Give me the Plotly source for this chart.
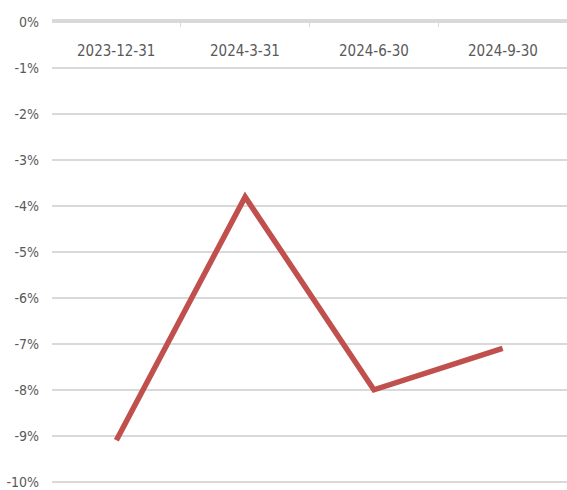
import plotly.graph_objects as go

categories = ["2023-12-31", "2024-3-31", "2024-6-30", "2024-9-30"]
values = [-9.1, -3.8, -8.0, -7.1]
ytick_vals = [0, -1, -2, -3, -4, -5, -6, -7, -8, -9, -10]
ytick_text = ["0%", "-1%", "-2%", "-3%", "-4%", "-5%", "-6%", "-7%", "-8%", "-9%", "-10%"]

font_family = "Liberation Sans Narrow, DejaVu Sans Condensed, Noto Sans, sans-serif"

fig = go.Figure()
fig.add_trace(go.Scatter(
    x=categories, y=values, mode="lines",
    line=dict(color="#C0504D", width=5.5),
    hoverinfo="skip",
))

for c in categories:
    fig.add_annotation(
        x=c, y=0, xref="x", yref="y", text=c, showarrow=False,
        yshift=-29, font=dict(family=font_family, size=15, color="#595959"),
    )

fig.update_layout(
    width=567, height=490,
    margin=dict(l=52, r=0, t=21, b=7),
    paper_bgcolor="white", plot_bgcolor="white",
    showlegend=False,
    xaxis=dict(
        type="category", side="top",
        range=[-0.5, 3.5],
        showticklabels=False,
        tickson="boundaries", ticks="inside", ticklen=6, tickcolor="#d9d9d9", tickwidth=1,
        showline=True, linecolor="#d9d9d9", linewidth=2,
        showgrid=False, zeroline=False,
    ),
    yaxis=dict(
        range=[-10.03, 0.03],
        tickvals=ytick_vals, ticktext=ytick_text,
        showgrid=True, gridcolor="#d9d9d9", gridwidth=2,
        zeroline=False, showline=False, ticks="",
        ticklabelstandoff=12,
        tickfont=dict(family=font_family, size=14, color="#595959"),
    ),
)

fig.write_html("out.html")
